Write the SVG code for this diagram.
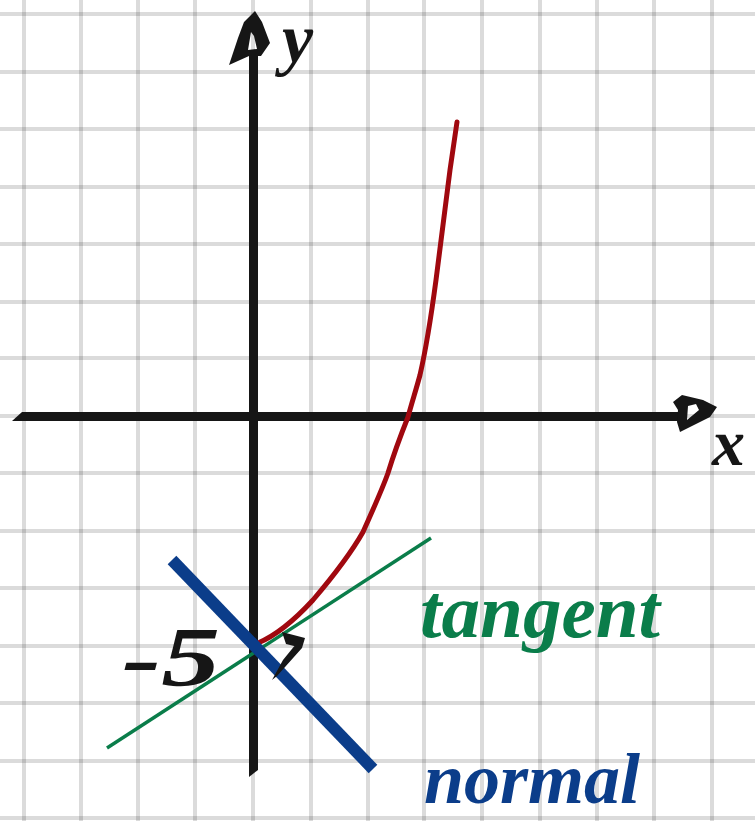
<svg xmlns="http://www.w3.org/2000/svg" width="755" height="821" viewBox="0 0 755 821">
<style>
.grid line{stroke:#000;stroke-opacity:0.14;stroke-width:4}
.lbl{font-family:"Liberation Serif",serif;font-style:italic;font-weight:bold}
</style>
<rect width="755" height="821" fill="#fff"/>
<g id="grid" class="grid">
<line x1="24" y1="0" x2="24" y2="821"/><line x1="81" y1="0" x2="81" y2="821"/><line x1="138" y1="0" x2="138" y2="821"/><line x1="195" y1="0" x2="195" y2="821"/><line x1="253" y1="0" x2="253" y2="821"/><line x1="311" y1="0" x2="311" y2="821"/><line x1="368" y1="0" x2="368" y2="821"/><line x1="424" y1="0" x2="424" y2="821"/><line x1="482" y1="0" x2="482" y2="821"/><line x1="540" y1="0" x2="540" y2="821"/><line x1="597" y1="0" x2="597" y2="821"/><line x1="654" y1="0" x2="654" y2="821"/><line x1="712" y1="0" x2="712" y2="821"/>
<line x1="0" y1="14" x2="755" y2="14"/><line x1="0" y1="72" x2="755" y2="72"/><line x1="0" y1="129" x2="755" y2="129"/><line x1="0" y1="187" x2="755" y2="187"/><line x1="0" y1="244" x2="755" y2="244"/><line x1="0" y1="302" x2="755" y2="302"/><line x1="0" y1="358" x2="755" y2="358"/><line x1="0" y1="416" x2="755" y2="416"/><line x1="0" y1="473" x2="755" y2="473"/><line x1="0" y1="531" x2="755" y2="531"/><line x1="0" y1="588" x2="755" y2="588"/><line x1="0" y1="646" x2="755" y2="646"/><line x1="0" y1="703" x2="755" y2="703"/><line x1="0" y1="761" x2="755" y2="761"/><line x1="0" y1="818" x2="755" y2="818"/>
</g>
<g id="axes" fill="#161616">
<path d="M249,56 L258,56 L258,770 L249,777 Z"/>
<path d="M255,11 L262,22 L270,43 L261,56 L249,56 L229,65 L238,38 L244,22 Z M251,32 L248,50 L257,49 L254,36 Z" fill-rule="evenodd"/>
<path d="M12,421 L22,412 L678,412 L678,421 Z"/>
<path d="M673,402 L682,395 L703,400 L717,407 L710,417 L680,432 L677,422 L678,410 Z M688,406 L696,404 L699,410 L687,420 Z" fill-rule="evenodd"/>
</g>
<g id="connectors">
<path id="curve" d="M258,643 C270,638 290,625 313,600 C330,580 350,555 363,532 C375,505 382,490 388,473 C395,450 402,432 408,417 C412,402 416,390 420,375 C428,340 432,310 436,280 C441,240 446,200 450,170 C453,150 455,135 457,122" fill="none" stroke="#a0080f" stroke-width="5" stroke-linecap="round"/>
<line id="tangent" x1="107" y1="748" x2="431" y2="538" stroke="#0a7d4a" stroke-width="3.5"/>
<line id="normal" x1="172" y1="560" x2="373" y2="769" stroke="#0b3d8a" stroke-width="12"/>
<path id="rightangle" d="M282,632 L305,638 L302,648 L286,644 Z M296,644 L302,648 L277,676 L272,680 L283,660 Z" fill="#161616"/>
</g>
<g id="labels" class="lbl">
<text x="282" y="62" font-size="70" fill="#161616">y</text>
<text x="712" y="465" font-size="66" fill="#161616">x</text>
<text x="122" y="686" font-size="84" fill="#161616" textLength="98" lengthAdjust="spacingAndGlyphs">-5</text>
<text x="420" y="637" font-size="76" fill="#0a7d4a" textLength="240" lengthAdjust="spacingAndGlyphs">tangent</text>
<text x="424" y="803" font-size="72" fill="#0b3d8a" textLength="216" lengthAdjust="spacingAndGlyphs">normal</text>
</g>
</svg>
